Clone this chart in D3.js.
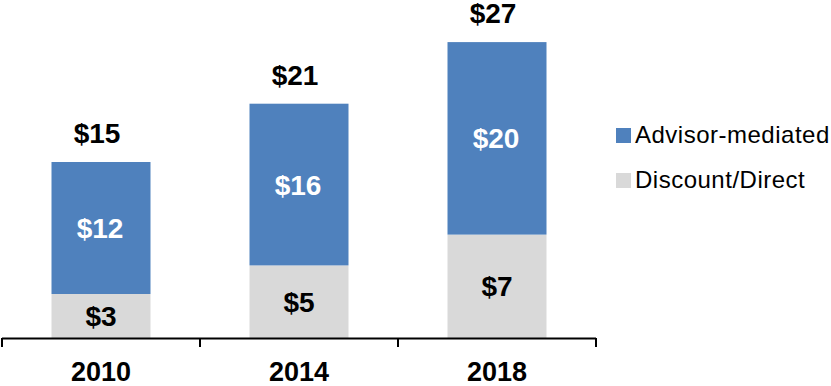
<!DOCTYPE html>
<html><head><meta charset="utf-8">
<script src="https://cdn.jsdelivr.net/npm/d3@7"></script>
<style>body{margin:0;background:#fff}svg{display:block}text{font-family:"Liberation Sans",Arial,sans-serif}</style>
</head><body><svg id="c" width="831" height="386"></svg>
<script>
const years = ["2010", "2014", "2018"];
const discountValues = [4.0, 6.6, 9.4];
const advisorValues = [12.0, 14.7, 17.5];
const discountLabels = ["$3", "$5", "$7"];
const advisorLabels = ["$12", "$16", "$20"];
const totalLabels = ["$15", "$21", "$27"];
const seriesNames = ["Advisor-mediated", "Discount/Direct"];
const colors = {advisor: "#4F81BD", discount: "#D9D9D9"};

const svg = d3.select("#c");
const x = d3.scaleBand().domain(years).range([2, 596]).paddingInner(0.5).paddingOuter(0.25);
const y = d3.scaleLinear().domain([0, 30]).range([338, 8]);

const rows = years.map((yr, i) => ({yr, d: discountValues[i], a: advisorValues[i], dl: discountLabels[i], al: advisorLabels[i], tl: totalLabels[i]}));

const g = svg.append("g");
g.selectAll("rect.d").data(rows).join("rect")
  .attr("x", r => x(r.yr)).attr("width", x.bandwidth())
  .attr("y", r => y(r.d)).attr("height", r => y(0) - y(r.d)).attr("fill", colors.discount);
g.selectAll("rect.a").data(rows).join("rect")
  .attr("x", r => x(r.yr)).attr("width", x.bandwidth())
  .attr("y", r => y(r.d + r.a)).attr("height", r => y(r.d) - y(r.d + r.a)).attr("fill", colors.advisor);

const cx = r => x(r.yr) + x.bandwidth() / 2;
g.selectAll("text.dl").data(rows).join("text")
  .attr("x", cx).attr("y", r => (y(0) + y(r.d)) / 2 + 10)
  .attr("text-anchor", "middle").attr("font-size", 28).attr("font-weight", "bold").attr("fill", "#000").text(r => r.dl);
g.selectAll("text.al").data(rows).join("text")
  .attr("x", r => cx(r) - 1).attr("y", r => (y(r.d) + y(r.d + r.a)) / 2 + 10)
  .attr("text-anchor", "middle").attr("font-size", 28).attr("font-weight", "bold").attr("fill", "#fff").text(r => r.al);
g.selectAll("text.tl").data(rows).join("text")
  .attr("x", r => cx(r) - 4).attr("y", r => y(r.d + r.a) - 19)
  .attr("text-anchor", "middle").attr("font-size", 28).attr("font-weight", "bold").attr("fill", "#000").text(r => r.tl);

// axis
const step = x.step();
const bounds = [x.range()[0]].concat(years.map(yr => x(yr) - x.paddingInner() * step / 2 + step));
const ax = svg.append("g");
ax.append("line").attr("x1", x.range()[0]).attr("x2", x.range()[1]).attr("y1", y(0) + 0.5).attr("y2", y(0) + 0.5).attr("stroke", "#000").attr("stroke-width", 2);
ax.selectAll("line.t").data(bounds).join("line")
  .attr("x1", d => d).attr("x2", d => d).attr("y1", y(0)).attr("y2", y(0) + 9).attr("stroke", "#000").attr("stroke-width", 2);
ax.selectAll("text").data(years).join("text")
  .attr("x", d => x(d) + x.bandwidth() / 2).attr("y", 381)
  .attr("text-anchor", "middle").attr("font-size", 27).attr("font-weight", "bold").text(d => d);

// legend
const leg = svg.append("g");
const lg = [{n: seriesNames[0], c: colors.advisor, y: 128}, {n: seriesNames[1], c: colors.discount, y: 173}];
leg.selectAll("rect").data(lg).join("rect").attr("x", 616).attr("y", d => d.y).attr("width", 15).attr("height", 15).attr("fill", d => d.c);
leg.selectAll("text").data(lg).join("text").attr("x", 635).attr("y", d => d.y + 15).attr("font-size", 24).attr("letter-spacing", 0.5).attr("fill", "#000").text(d => d.n);
</script></body></html>
